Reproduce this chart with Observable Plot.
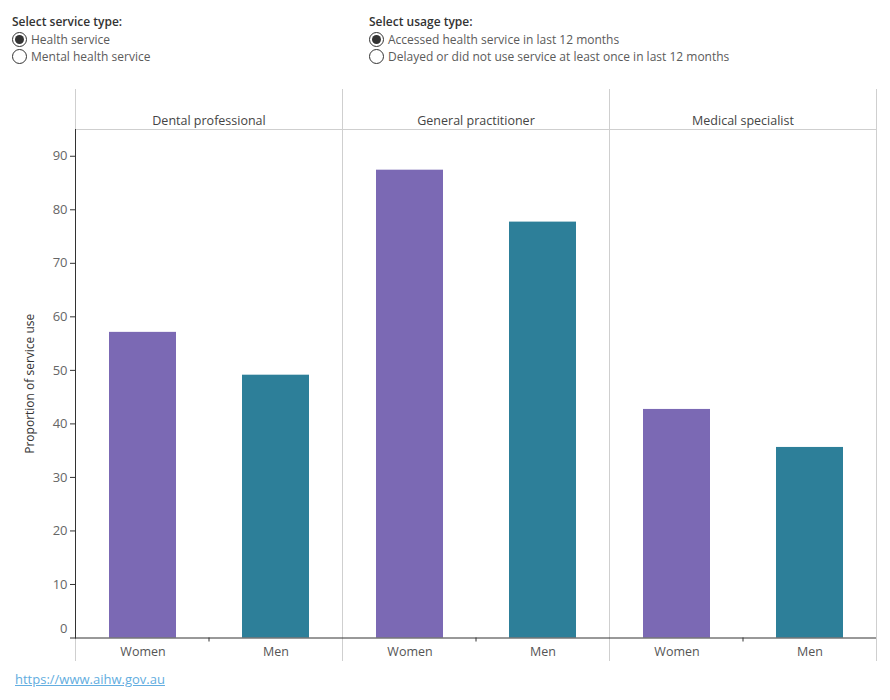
<!DOCTYPE html>
<html>
<head>
<meta charset="utf-8">
<script src="https://cdn.jsdelivr.net/npm/d3@7"></script>
<script src="https://cdn.jsdelivr.net/npm/@observablehq/plot@0.6"></script>
<style>
  body { margin: 0; background: #fff; font-family: "Open Sans", Lato, sans-serif; }
  #page { position: relative; width: 890px; height: 700px; }
  .group { position: absolute; top: 13px; font-size: 12px; }
  .group .title { margin: 0 0 1px 0; font-weight: 600; color: #333; line-height: 17px; }
  .opt { display: flex; align-items: center; height: 17px; color: #5b5b5b; white-space: nowrap; }
  .radio { width: 15px; height: 15px; border: 1px solid #333; border-radius: 50%; box-sizing: border-box;
           margin-right: 4px; position: relative; flex: none; background: #fff; }
  .radio.on::after { content: ""; position: absolute; left: 2px; top: 2px; width: 9px; height: 9px;
                     border-radius: 50%; background: #333; }
  #chart { position: absolute; left: 0; top: 85px; }
  #link { position: absolute; left: 15px; top: 671px; font-size: 13px; line-height: 17px;
          color: #62ade0; text-decoration: underline; }
</style>
</head>
<body>
<div id="page">
  <div class="group" style="left:12px">
    <div class="title">Select service type:</div>
    <div class="opt"><span class="radio on"></span>Health service</div>
    <div class="opt"><span class="radio"></span>Mental health service</div>
  </div>
  <div class="group" style="left:369px">
    <div class="title">Select usage type:</div>
    <div class="opt"><span class="radio on"></span>Accessed health service in last 12 months</div>
    <div class="opt"><span class="radio"></span>Delayed or did not use service at least once in last 12 months</div>
  </div>
  <div id="chart"></div>
  <div id="link">https://www.aihw.gov.au</div>
</div>
<script>
// Service types (panels) and sexes (bars within each panel)
const services = ["Dental professional", "General practitioner", "Medical specialist"];
const sexes = ["Women", "Men"];

// Proportion (%) who accessed each service in the last 12 months
const women = [57.1, 87.4, 42.7];
const men = [49.1, 77.7, 35.6];

// Y axis
const yTicks = [0, 10, 20, 30, 40, 50, 60, 70, 80, 90];
const yDomain = [0, 95];
const yLabel = "Proportion of service use";

const colors = ["#7b69b4", "#2d7f99"];

const data = services.flatMap((s, i) => [
  {service: s, sex: sexes[0], value: women[i]},
  {service: s, sex: sexes[1], value: men[i]}
]);

const headerBand = 40;   // space for the panel titles above the plot area
const footerBand = 22.5; // space for the category labels below the baseline

const chart = Plot.plot({
  width: 890,
  height: 580,
  marginLeft: 74,
  marginRight: 13,
  marginTop: 4,
  marginBottom: 5,
  insetTop: headerBand,
  insetBottom: footerBand,
  style: {fontFamily: "'Open Sans', Lato, sans-serif", fontSize: "12px", color: "#555", background: "transparent"},
  fx: {domain: services, padding: 0, label: null},
  x: {domain: sexes, paddingInner: 0.5, paddingOuter: 0.25, label: null},
  y: {domain: yDomain},
  color: {domain: sexes, range: colors},
  marks: [
    // panel dividers and header rule
    Plot.frame({anchor: "left", stroke: "#cfcfcf"}),
    Plot.frame({anchor: "right", stroke: "#cfcfcf"}),
    Plot.ruleY([yDomain[1]], {stroke: "#cfcfcf"}),

    // bars
    Plot.barY(data, {fx: "service", x: "sex", y: "value", fill: "sex"}),

    // baseline and y-axis line
    Plot.ruleY([0], {stroke: "#333"}),
    Plot.frame({anchor: "left", stroke: "#333", insetTop: headerBand, insetBottom: footerBand, fx: services[0]}),

    // y axis ticks and labels (the 0 label sits just above the baseline)
    Plot.axisY({ticks: yTicks, tickSize: 5, tickPadding: 3, tickFormat: d => d === 0 ? "" : d,
                stroke: "#333", fill: "#666", fontSize: 13, label: null}),
    Plot.axisY({ticks: [0], tickSize: 0, tickPadding: 8, dy: -9, fill: "#666", fontSize: 13, label: null}),
    Plot.text([yLabel], {fx: () => services[0], y: () => d3.mean(yDomain), frameAnchor: "left",
                         textAnchor: "middle", dx: -45, rotate: -90, text: d => d,
                         fill: "#333", fontSize: 12, fontWeight: 500}),

    // panel titles
    Plot.text(services, {fx: d => d, text: d => d, frameAnchor: "top", dy: 27, fill: "#444", fontSize: 12.5}),

    // category labels and mid-panel ticks
    Plot.axisX({tickSize: 0, tickPadding: 9, dy: -footerBand, fill: "#555", fontSize: 12.5, label: null}),
    Plot.axisFx({anchor: "bottom", tickSize: 4, tickFormat: () => "", dy: -footerBand, stroke: "#333", label: null})
  ]
});

document.getElementById("chart").appendChild(chart);
</script>
</body>
</html>
